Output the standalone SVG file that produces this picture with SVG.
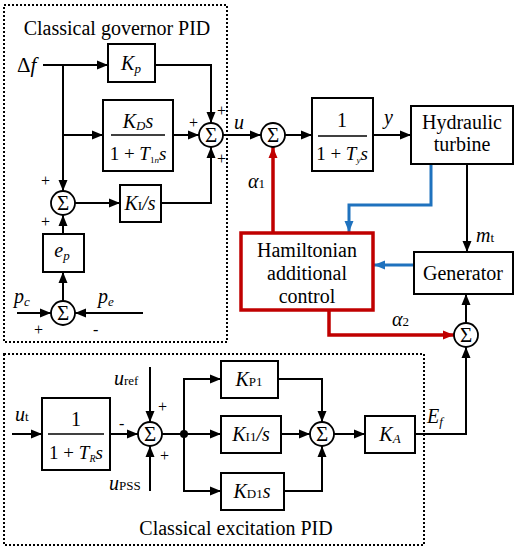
<svg xmlns="http://www.w3.org/2000/svg" width="519" height="550" viewBox="0 0 519 550" font-family="'Liberation Serif', 'Times New Roman', serif">
<defs>
<marker id="ab" markerUnits="userSpaceOnUse" markerWidth="12" markerHeight="10" refX="11" refY="5" orient="auto"><path d="M0,0.5 L11,5 L0,9.5 Z" fill="#000"/></marker>
<marker id="ar" markerUnits="userSpaceOnUse" markerWidth="12" markerHeight="10" refX="11" refY="5" orient="auto"><path d="M0,0.5 L11,5 L0,9.5 Z" fill="#c00000"/></marker>
<marker id="au" markerUnits="userSpaceOnUse" markerWidth="12" markerHeight="10" refX="11" refY="5" orient="auto"><path d="M0,0.5 L11,5 L0,9.5 Z" fill="#1f72be"/></marker>
</defs>
<style>
svg, text, tspan { font-family: 'Liberation Serif', 'Times New Roman', serif; }
text { fill: #000; }
.t { font-size: 20px; text-anchor: middle; }
.m { font-size: 20px; font-style: italic; }
.mc { font-size: 20px; font-style: italic; text-anchor: middle; }
.s { font-size: 13px; font-style: normal; }
.si { font-size: 13px; font-style: italic; }
.pl { font-size: 16px; }
.box { fill: #fff; stroke: #000; stroke-width: 2; }
.sum { fill: #fff; stroke: #000; stroke-width: 1.8; }
.sg { font-size: 21px; text-anchor: middle; }
.dot { fill: none; stroke: #000; stroke-width: 2; stroke-dasharray: 2 2; }
.la { fill: none; stroke: #000; stroke-width: 2; marker-end: url(#ab); }
.ra { fill: none; stroke: #c00000; stroke-width: 3.5; marker-end: url(#ar); }
.ba { fill: none; stroke: #1f72be; stroke-width: 3; marker-end: url(#au); }
.fr { stroke: #000; stroke-width: 1.5; }
</style>
<rect x="0" y="0" width="519" height="550" fill="#fff"/>

<g id="governor-frame">
<rect class="dot" x="4" y="5" width="223" height="337"/>
<text class="t" x="117" y="35">Classical governor PID</text>
</g>
<g id="excitation-frame">
<rect class="dot" x="4" y="354" width="420" height="191"/>
<text class="t" x="236" y="535">Classical excitation PID</text>
</g>

<g id="connectors">
<path class="la" d="M43,65 H108"/>
<path class="la" d="M155,65 H211 V123"/>
<path class="la" d="M63,65 V191"/>
<path class="la" d="M63,135 H103"/>
<path class="la" d="M173,135 H199"/>
<path class="la" d="M223,135 H261"/>
<path class="la" d="M75,203 H120"/>
<path class="la" d="M161,203 H211 V147"/>
<path class="la" d="M63,301 V272"/>
<path class="la" d="M63,234 V215"/>
<path class="la" d="M17,313 H51"/>
<path class="la" d="M143,313 H75"/>
<path class="la" d="M285,135 H312"/>
<path class="la" d="M373,135 H411"/>
<path class="ba" d="M431,164 V205 H349 V232"/>
<path class="la" d="M467,164 V252"/>
<path class="ra" d="M273,233 V147"/>
<path class="ba" d="M414,265 H374"/>
<path class="ra" d="M329,310 V335 H454"/>
<path class="la" d="M466,323 V294"/>
<path class="la" d="M415,434 H466 V347"/>
<path class="la" d="M12,434 H42"/>
<path class="la" d="M110,434 H138"/>
<path class="la" d="M150,367 V422"/>
<path class="la" d="M150,491 V446"/>
<path class="la" d="M162,434 H221"/>
<path class="la" d="M184,434 V379 H221"/>
<path class="la" d="M184,434 V491 H221"/>
<circle cx="184" cy="434" r="4" fill="#000"/>
<path class="la" d="M278,379 H322 V422"/>
<path class="la" d="M281,434 H310"/>
<path class="la" d="M284,491 H322 V446"/>
<path class="la" d="M334,434 H365"/>
</g>

<g id="labels">
<text x="17" y="72" font-size="21">Δ<tspan font-style="italic">f</tspan></text>
<text class="pl" x="189" y="128">+</text>
<text class="pl" x="217" y="116">+</text>
<text class="pl" x="217" y="164">+</text>
<text class="m" x="234" y="129">u</text>
<text class="pl" x="41" y="186">+</text>
<text class="pl" x="41" y="227">+</text>
<text class="m" x="14" y="303">p<tspan class="si" dy="3">c</tspan></text>
<text class="m" x="98" y="303">p<tspan class="si" dy="3">e</tspan></text>
<text class="pl" x="34" y="335">+</text>
<text class="pl" x="93" y="335">-</text>
<text class="m" x="384" y="124">y</text>
<text class="m" x="476" y="242">m<tspan class="s">t</tspan></text>
<text class="m" x="248" y="188">α<tspan class="s" font-size="15">1</tspan></text>
<text class="m" x="392" y="326">α<tspan class="s" font-size="15">2</tspan></text>
<text class="m" x="427" y="423">E<tspan class="si" dy="3">f</tspan></text>
<text class="m" x="15" y="421">u<tspan class="s">t</tspan></text>
<text class="pl" x="119" y="429">-</text>
<text class="m" x="114" y="385">u<tspan class="s" font-size="14">ref</tspan></text>
<text class="pl" x="158" y="412">+</text>
<text class="m" x="109" y="490">u<tspan class="s" font-size="12">PSS</tspan></text>
<text class="pl" x="160" y="461">+</text>
</g>

<g id="Kp">
<rect class="box" x="108" y="44" width="47" height="38"/>
<text class="mc" x="131" y="70">K<tspan class="si" dy="3">p</tspan></text>
</g>
<g id="KD">
<rect class="box" x="103" y="100" width="70" height="71"/>
<text class="mc" x="138" y="128">K<tspan class="si" font-size="9" dy="2">D</tspan><tspan dy="-2">s</tspan></text>
<line class="fr" x1="111" y1="135" x2="165" y2="135"/>
<text x="138" y="160" font-size="19" text-anchor="middle">1 + <tspan font-style="italic">T</tspan><tspan font-size="9" dy="3">1<tspan font-style="italic">n</tspan></tspan><tspan font-style="italic" dy="-3">s</tspan></text>
</g>
<g id="KI">
<rect class="box" x="120" y="185" width="41" height="37"/>
<text class="mc" x="140" y="210">K<tspan class="s" font-size="12">I</tspan>/s</text>
</g>
<g id="ep">
<rect class="box" x="43" y="234" width="41" height="38"/>
<text class="mc" x="62" y="257">e<tspan class="si" dy="3">p</tspan></text>
</g>
<g id="sum1"><circle class="sum" cx="211" cy="135" r="12"/><text class="sg" x="211" y="142">Σ</text></g>
<g id="sum-i"><circle class="sum" cx="63" cy="203" r="12"/><text class="sg" x="63" y="210">Σ</text></g>
<g id="sum-p"><circle class="sum" cx="63" cy="313" r="12"/><text class="sg" x="63" y="320">Σ</text></g>
<g id="sum2"><circle class="sum" cx="273" cy="135" r="12"/><text class="sg" x="273" y="142">Σ</text></g>
<g id="Ty">
<rect class="box" x="312" y="98" width="61" height="73"/>
<text class="t" x="342" y="127" font-size="19">1</text>
<line class="fr" x1="318" y1="136" x2="367" y2="136"/>
<text x="342" y="160" font-size="19" text-anchor="middle">1 + <tspan font-style="italic">T</tspan><tspan font-size="9" font-style="italic" dy="3">y</tspan><tspan font-style="italic" dy="-3">s</tspan></text>
</g>
<g id="turbine">
<rect class="box" x="411" y="106" width="102" height="58"/>
<text class="t" x="462" y="129">Hydraulic</text>
<text class="t" x="462" y="151">turbine</text>
</g>
<g id="hamiltonian">
<rect x="241" y="233" width="132" height="77" fill="#fff" stroke="#c00000" stroke-width="3.5"/>
<text class="t" x="307" y="257" font-size="21">Hamiltonian</text>
<text class="t" x="307" y="280" font-size="21">additional</text>
<text class="t" x="307" y="303" font-size="21">control</text>
</g>
<g id="generator">
<rect class="box" x="414" y="252" width="99" height="42"/>
<text class="t" x="463" y="280">Generator</text>
</g>
<g id="sum3"><circle class="sum" cx="466" cy="335" r="12"/><text class="sg" x="466" y="342">Σ</text></g>
<g id="TR">
<rect class="box" x="42" y="398" width="68" height="72"/>
<text class="t" x="76" y="426" font-size="19">1</text>
<line class="fr" x1="48" y1="434" x2="104" y2="434"/>
<text x="76" y="459" font-size="19" text-anchor="middle">1 + <tspan font-style="italic">T</tspan><tspan font-size="10" font-style="italic" dy="3">R</tspan><tspan font-style="italic" dy="-3">s</tspan></text>
</g>
<g id="sum4"><circle class="sum" cx="150" cy="434" r="12"/><text class="sg" x="150" y="441">Σ</text></g>
<g id="KP1">
<rect class="box" x="221" y="361" width="57" height="37"/>
<text class="mc" x="249" y="386">K<tspan class="s">P1</tspan></text>
</g>
<g id="KI1">
<rect class="box" x="221" y="416" width="60" height="37"/>
<text class="mc" x="251" y="441">K<tspan class="s">I1</tspan>/s</text>
</g>
<g id="KD1">
<rect class="box" x="221" y="473" width="63" height="37"/>
<text class="mc" x="252" y="498">K<tspan class="s">D1</tspan>s</text>
</g>
<g id="sum5"><circle class="sum" cx="322" cy="434" r="12"/><text class="sg" x="322" y="441">Σ</text></g>
<g id="KA">
<rect class="box" x="365" y="416" width="50" height="37"/>
<text class="mc" x="390" y="441">K<tspan class="si" dy="2">A</tspan></text>
</g>
</svg>
